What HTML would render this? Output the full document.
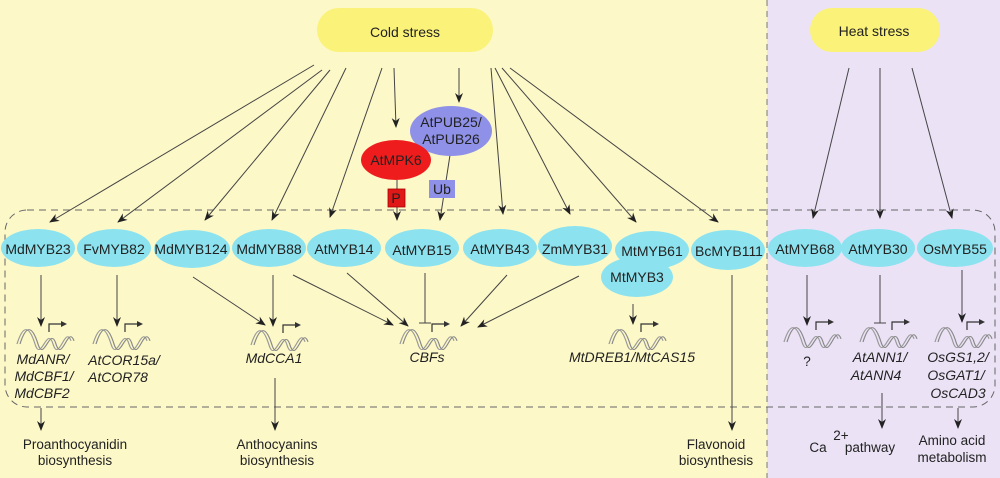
<!DOCTYPE html>
<html><head><meta charset="utf-8"><style>
html,body{margin:0;padding:0;width:1000px;height:478px;overflow:hidden;background:#fcf8c8}
svg{display:block}
text{font-family:"Liberation Sans",Arial,sans-serif;fill:#222}
.n{font-size:14px;text-anchor:middle}
.g{font-size:14px;font-style:italic;text-anchor:middle}
.b{font-size:13.5px;text-anchor:middle}
</style></head><body>
<svg width="1000" height="478" viewBox="0 0 1000 478" xmlns="http://www.w3.org/2000/svg">
<defs>
<marker id="a" markerWidth="10" markerHeight="10" refX="9" refY="5" orient="auto" markerUnits="userSpaceOnUse"><path d="M0,1 L10,5 L0,9 L3,5 Z" fill="#222"/></marker>
<g id="dna">
<path d="M-28,10 C-22,-14 -16,-14 -10,10 C-4,34 2,-14 8,10 C14,34 20,-14 26,6" fill="none" stroke="#999" stroke-width="1.2" transform="translate(0,-6) scale(1,0.8)"/>
<path d="M-25,10 C-19,-14 -13,-14 -7,10 C-1,34 5,-14 11,10 C17,34 23,-14 29,6" fill="none" stroke="#888" stroke-width="1.2" transform="translate(0,-6) scale(1,0.8)"/>
<path d="M4,-10 L4,-18 L18,-18" fill="none" stroke="#333" stroke-width="1.2"/>
<path d="M16,-21 L22,-18 L16,-15 Z" fill="#333"/>
</g>
</defs>
<rect x="767" y="0" width="233" height="478" fill="#ebe2f6"/>
<line x1="767" y1="0" x2="767" y2="478" stroke="#777" stroke-width="1" stroke-dasharray="6,5"/>
<rect x="5" y="210" width="990" height="197" rx="22" fill="none" stroke="#666" stroke-width="1" stroke-dasharray="7,5"/>

<rect x="317" y="8" width="176" height="44" rx="22" fill="#fbf27a"/>
<text x="405" y="37" class="n">Cold stress</text>
<rect x="810" y="8" width="130" height="44" rx="22" fill="#fbf27a"/>
<text x="874" y="36" class="n">Heat stress</text>

<g stroke="#444" stroke-width="1" fill="none" marker-end="url(#a)">
<line x1="314" y1="65" x2="50" y2="222"/>
<line x1="322" y1="70" x2="118" y2="222"/>
<line x1="330" y1="70" x2="205" y2="220"/>
<line x1="346" y1="68" x2="272" y2="220"/>
<line x1="382" y1="68" x2="330" y2="217"/>
<line x1="394" y1="68" x2="396" y2="127"/>
<line x1="459" y1="68" x2="459" y2="102"/>
<line x1="491" y1="68" x2="503" y2="214"/>
<line x1="495" y1="68" x2="570" y2="214"/>
<line x1="502" y1="68" x2="636" y2="222"/>
<line x1="510" y1="68" x2="718" y2="222"/>
<line x1="397" y1="207" x2="397" y2="220"/>
<line x1="450" y1="155" x2="440" y2="220"/>
<line x1="849" y1="68" x2="813" y2="218"/>
<line x1="880" y1="68" x2="880" y2="218"/>
<line x1="912" y1="68" x2="952" y2="218"/>
</g>
<line x1="397" y1="180" x2="397" y2="189" stroke="#444"/>

<ellipse cx="451" cy="131" rx="41" ry="25" fill="#8f91e8"/>
<text x="451" y="127" class="n">AtPUB25/</text>
<text x="451" y="144" class="n">AtPUB26</text>
<ellipse cx="396" cy="160" rx="35" ry="20" fill="#ee1c1c"/>
<text x="396" y="165" class="n" fill="#a01010">AtMPK6</text>
<rect x="388" y="189" width="17" height="18" fill="#e01818" stroke="#a00" stroke-width="0.8"/>
<text x="396" y="203" class="n" font-size="13">P</text>
<rect x="429" y="180" width="26" height="18" fill="#8f91e8"/>
<text x="442" y="194" class="n" font-size="13">Ub</text>

<g fill="#8ce3ef">
<ellipse cx="38" cy="248" rx="37" ry="19"/>
<ellipse cx="114" cy="248" rx="37" ry="19"/>
<ellipse cx="192" cy="249" rx="38" ry="19"/>
<ellipse cx="269" cy="248" rx="37" ry="19"/>
<ellipse cx="344" cy="248" rx="37" ry="19"/>
<ellipse cx="422" cy="248" rx="37" ry="19"/>
<ellipse cx="500" cy="248" rx="37" ry="19"/>
<ellipse cx="575" cy="246" rx="37" ry="20"/>
<ellipse cx="637" cy="277" rx="36" ry="20"/>
<ellipse cx="652" cy="250" rx="37" ry="19"/>
<ellipse cx="728" cy="250" rx="37" ry="20"/>
<ellipse cx="805" cy="248" rx="37" ry="19"/>
<ellipse cx="878" cy="248" rx="37" ry="19"/>
<ellipse cx="955" cy="248" rx="38" ry="19"/>
</g>
<text x="38" y="254" class="n">MdMYB23</text>
<text x="114" y="254" class="n">FvMYB82</text>
<text x="191" y="254" class="n">MdMYB124</text>
<text x="269" y="254" class="n">MdMYB88</text>
<text x="344" y="254" class="n">AtMYB14</text>
<text x="422" y="255" class="n">AtMYB15</text>
<text x="500" y="254" class="n">AtMYB43</text>
<text x="575" y="254" class="n">ZmMYB31</text>
<text x="652" y="256" class="n">MtMYB61</text>
<text x="637" y="282" class="n">MtMYB3</text>
<text x="729" y="256" class="n">BcMYB111</text>
<text x="805" y="254" class="n">AtMYB68</text>
<text x="878" y="254" class="n">AtMYB30</text>
<text x="955" y="254" class="n">OsMYB55</text>

<g stroke="#444" stroke-width="1" fill="none" marker-end="url(#a)">
<line x1="41" y1="275" x2="41" y2="326"/>
<line x1="117" y1="275" x2="117" y2="326"/>
<line x1="193" y1="277" x2="265" y2="325"/>
<line x1="273" y1="275" x2="273" y2="326"/>
<line x1="293" y1="275" x2="393" y2="325"/>
<line x1="347" y1="273" x2="408" y2="326"/>
<line x1="507" y1="275" x2="461" y2="326"/>
<line x1="579" y1="276" x2="478" y2="327"/>
<line x1="633" y1="304" x2="633" y2="324"/>
<line x1="732" y1="275" x2="732" y2="430"/>
<line x1="807" y1="275" x2="807" y2="325"/>
<line x1="962" y1="270" x2="962" y2="322"/>
<line x1="41" y1="408" x2="41" y2="430"/>
<line x1="275" y1="378" x2="275" y2="430"/>
<line x1="882" y1="393" x2="882" y2="428"/>
<line x1="958" y1="408" x2="958" y2="428"/>
</g>
<g stroke="#444" stroke-width="1">
<line x1="425" y1="273" x2="425" y2="323"/><line x1="419" y1="323" x2="431" y2="323"/>
<line x1="880" y1="275" x2="880" y2="323"/><line x1="874" y1="323" x2="886" y2="323"/>
</g>

<use href="#dna" x="45" y="342"/>
<use href="#dna" x="121" y="342"/>
<use href="#dna" x="279" y="343"/>
<use href="#dna" x="428" y="342"/>
<use href="#dna" x="637" y="342"/>
<use href="#dna" x="812" y="340"/>
<use href="#dna" x="888" y="340"/>
<use href="#dna" x="963" y="340"/>

<text x="43" y="364" class="g">MdANR/</text>
<text x="44" y="381" class="g">MdCBF1/</text>
<text x="42" y="398" class="g">MdCBF2</text>
<text x="124" y="365" class="g">AtCOR15a/</text>
<text x="118" y="382" class="g">AtCOR78</text>
<text x="274" y="363" class="g">MdCCA1</text>
<text x="427" y="362" class="g">CBFs</text>
<text x="632" y="362" class="g">MtDREB1/MtCAS15</text>
<text x="807" y="366" class="b" font-size="14">?</text>
<text x="880" y="362" class="g">AtANN1/</text>
<text x="876" y="380" class="g">AtANN4</text>
<text x="958" y="362" class="g">OsGS1,2/</text>
<text x="956" y="380" class="g">OsGAT1/</text>
<text x="958" y="398" class="g">OsCAD3</text>

<text x="75" y="449" class="b">Proanthocyanidin</text>
<text x="75" y="465" class="b">biosynthesis</text>
<text x="277" y="449" class="b">Anthocyanins</text>
<text x="277" y="465" class="b">biosynthesis</text>
<text x="716" y="449" class="b">Flavonoid</text>
<text x="716" y="465" class="b">biosynthesis</text>
<text x="818" y="452" class="b">Ca</text>
<text x="841" y="440" class="b" font-size="10">2+</text>
<text x="870" y="452" class="b">pathway</text>
<text x="952" y="445" class="b">Amino acid</text>
<text x="952" y="462" class="b">metabolism</text>
</svg>
</body></html>
